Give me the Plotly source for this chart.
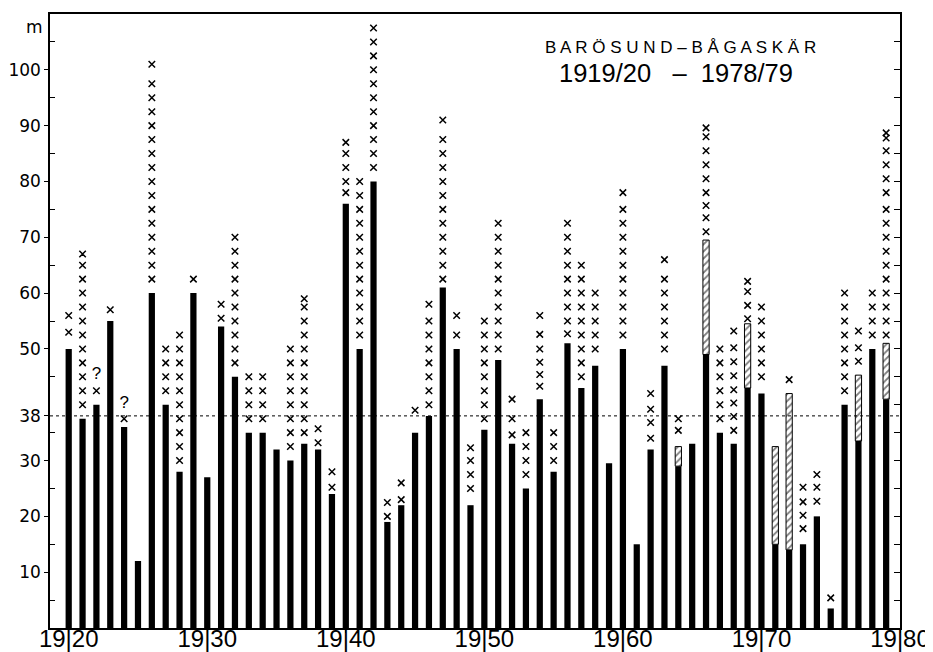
import plotly.graph_objects as go

# ---------------- data ----------------
years = list(range(1920, 1980))  # season 1919/20 ... 1978/79 (plotted at end year)

black = [50, 37.5, 40, 55, 36, 12, 60, 40, 28, 60,
         27, 54, 45, 35, 35, 32, 30, 33, 32, 24,
         76, 50, 80, 19, 22, 35, 38, 61, 50, 22,
         35.5, 48, 33, 25, 41, 28, 51, 43, 47, 29.5,
         50, 15, 32, 47, 29, 33, 49, 35, 33, 43,
         42, 15, 14, 15, 20, 3.5, 40, 33.5, 50, 41]

hatch_years = [1964, 1966, 1969, 1971, 1972, 1977, 1979]
hatch_top = [32.5, 69.5, 54.5, 32.5, 42, 45.3, 51]

cross_marks = [
    [53, 56],
    [40, 42.5, 45, 47.5, 50, 52.5, 55, 57.5, 60, 62.5, 65, 67],
    [42.5],
    [57],
    [37.5],
    [],
    [62.5, 65, 67.5, 70, 72.5, 75, 77.5, 80, 82.5, 85, 87.5, 90, 92.5, 95, 97.5, 101],
    [42.5, 45, 47.5, 50],
    [30, 32.5, 35, 37.5, 40, 42.5, 45, 47.5, 50, 52.5],
    [62.5],
    [],
    [55.5, 58],
    [47.5, 50, 52.5, 55, 57.5, 60, 62.5, 65, 67.5, 70],
    [37.5, 40, 42.5, 45],
    [37.5, 40, 42.5, 45],
    [],
    [32.5, 35, 37.5, 40, 42.5, 45, 47.5, 50],
    [35, 37.5, 40, 42.5, 45, 47.5, 50, 52.5, 55, 57.5, 59],
    [33.2, 35.7],
    [25.2, 28],
    [78, 80, 82.5, 85, 87],
    [52.5, 55, 57.5, 60, 62.5, 65, 67.5, 70, 72.5, 75, 77.5, 80],
    [82.5, 85, 87.5, 90, 92.5, 95, 97.5, 100, 102.5, 105, 107.5],
    [20, 22.5],
    [23, 26],
    [39],
    [40, 42.5, 45, 47.5, 50, 52.5, 55, 58],
    [62.5, 65, 67.5, 70, 72.5, 75, 77.5, 80, 82.5, 85, 87.5, 91],
    [52.5, 56],
    [25, 27.5, 30, 32.3],
    [37.5, 40, 42.5, 45, 47.5, 50, 52.5, 55],
    [50, 52.5, 55, 57.5, 60, 62.5, 65, 67.5, 70, 72.5],
    [34.6, 37.5, 41],
    [27.5, 30, 32.5, 35],
    [43.3, 45.4, 47.6, 50, 52.6, 56],
    [30, 32.5, 35],
    [52.7, 55, 57.5, 60, 62.5, 65, 67.5, 70, 72.5],
    [45, 47.5, 50, 52.5, 55, 57.5, 60, 62.5, 65],
    [50, 52.5, 55, 57.5, 60],
    [],
    [52.5, 55, 57.5, 60, 62.5, 65, 67.5, 70, 72.5, 75, 78],
    [],
    [34, 36.8, 39.2, 42],
    [50, 52.5, 55, 57.5, 60, 62.5, 66],
    [35.4, 37.5],
    [],
    [71, 73.5, 75.7, 78, 80.5, 83, 85.5, 88, 89.6],
    [37.5, 40, 42.5, 45, 47.5, 50],
    [35.4, 37.9, 40.3, 42.7, 45.2, 47.7, 50.2, 53.2],
    [55.4, 57.8, 60.3, 62.1],
    [45, 47.5, 50, 52.5, 55, 57.5],
    [],
    [44.5],
    [17.8, 20.2, 22.6, 25.2],
    [22.7, 25.2, 27.5],
    [5.4],
    [42.5, 45, 47.5, 50, 52.5, 55, 57.5, 60],
    [47.8, 50.2, 53.2],
    [52.5, 55, 57.5, 60],
    [52.5, 55, 57.5, 60, 62.5, 65, 67.5, 70, 72.5, 75, 78, 80.5, 83, 85.5, 87.8, 88.7],
]

query_years = [1922, 1924]
query_heights = [45.3, 40.2]

reference_level = 38

y_major_ticks = [10, 20, 30, 38, 50, 60, 70, 80, 90, 100]
y_minor_ticks = [5, 15, 25, 35, 45, 55, 65, 75, 85, 95, 105]
y_right_ticks = [5, 10, 15, 20, 25, 30, 35, 40, 45, 50, 55, 60, 65, 70, 75, 80, 85, 90, 95, 100, 105]
x_ticks = [1920, 1930, 1940, 1950, 1960, 1970, 1980]
x_ticktext = ["19|20", "19|30", "19|40", "19|50", "19|60", "19|70", "19|80"]

title_line1 = "B A R Ö S U N D – B Å G A S K Ä R"
title_line2 = "1919/20\u00a0\u00a0\u00a0–\u00a0\u00a01978/79"

# ---------------- figure ----------------
fig = go.Figure()

fig.add_trace(go.Bar(
    x=years, y=black, width=0.45,
    marker=dict(color="black", line=dict(width=0)),
    showlegend=False, hoverinfo="skip",
))

hatch_base = [black[years.index(yr)] for yr in hatch_years]
fig.add_trace(go.Bar(
    x=hatch_years, y=[t - b for t, b in zip(hatch_top, hatch_base)], base=hatch_base,
    width=0.45,
    marker=dict(color="white", line=dict(color="black", width=1),
                pattern=dict(shape="/", fgcolor="black", bgcolor="white", size=5, solidity=0.35)),
    showlegend=False, hoverinfo="skip",
))

cx, cy = [], []
for yr, marks in zip(years, cross_marks):
    for m in marks:
        cx.append(yr)
        cy.append(m)
fig.add_trace(go.Scatter(
    x=cx, y=cy, mode="markers",
    marker=dict(symbol="x-thin", size=6.5, color="black", line=dict(width=1.5, color="black")),
    showlegend=False, hoverinfo="skip",
))

fig.add_trace(go.Scatter(
    x=query_years, y=query_heights, mode="text", text=["?"] * len(query_years),
    textfont=dict(family="Liberation Sans", size=17, color="black"),
    showlegend=False, hoverinfo="skip",
))

# invisible trace for right axis
fig.add_trace(go.Scatter(x=[1930], y=[0], yaxis="y2", mode="markers",
                         marker=dict(opacity=0), showlegend=False, hoverinfo="skip"))

fig.add_shape(type="line", xref="paper", x0=0, x1=1, yref="y", y0=reference_level, y1=reference_level,
              line=dict(color="black", width=1, dash="3px,3px"))

fig.add_annotation(text=title_line1, xref="paper", yref="paper", x=0.742, y=0.9454,
                   xanchor="center", yanchor="middle", showarrow=False,
                   font=dict(family="Liberation Sans", size=17, color="black"))
fig.add_annotation(text=title_line2, xref="paper", yref="paper", x=0.7367, y=0.9047,
                   xanchor="center", yanchor="middle", showarrow=False,
                   font=dict(family="Liberation Sans", size=25.5, color="black"))
fig.add_annotation(text="m", xref="paper", yref="paper", x=-0.0177, y=0.9788,
                   xanchor="center", yanchor="middle", showarrow=False,
                   font=dict(family="DejaVu Sans", size=17, color="black"))

# page body adds an 8px offset; figure is sized so the plot area lands where the reference has it
fig.update_layout(
    width=925, height=644,
    margin=dict(l=42, r=33, t=6, b=24),
    paper_bgcolor="white", plot_bgcolor="white",
    barmode="overlay",
    xaxis=dict(range=[1918.65, 1980.0], tickvals=x_ticks, ticktext=x_ticktext,
               ticks="outside", ticklen=3, tickwidth=1.2, tickcolor="black",
               ticklabelstandoff=-15,
               showline=True, linecolor="black", linewidth=1.5, mirror=True,
               showgrid=False, zeroline=False, automargin=False,
               tickfont=dict(family="Liberation Sans", size=24, color="black")),
    yaxis=dict(range=[0, 110], tickvals=y_major_ticks,
               ticks="outside", ticklen=4, tickwidth=1.2, tickcolor="black",
               showline=True, linecolor="black", linewidth=1.5,
               showgrid=False, zeroline=False, automargin=False,
               minor=dict(tickvals=y_minor_ticks, ticks="inside", ticklen=5, tickcolor="black", tickwidth=1, showgrid=False),
               tickfont=dict(family="DejaVu Sans", size=17, color="black")),
    yaxis2=dict(range=[0, 110], overlaying="y", side="right", tickvals=y_right_ticks,
                ticks="inside", ticklen=6, tickwidth=1, tickcolor="black",
                showticklabels=False, showline=True, linecolor="black", linewidth=1.5,
                showgrid=False, zeroline=False, automargin=False),
)

fig.write_html("out.html")
